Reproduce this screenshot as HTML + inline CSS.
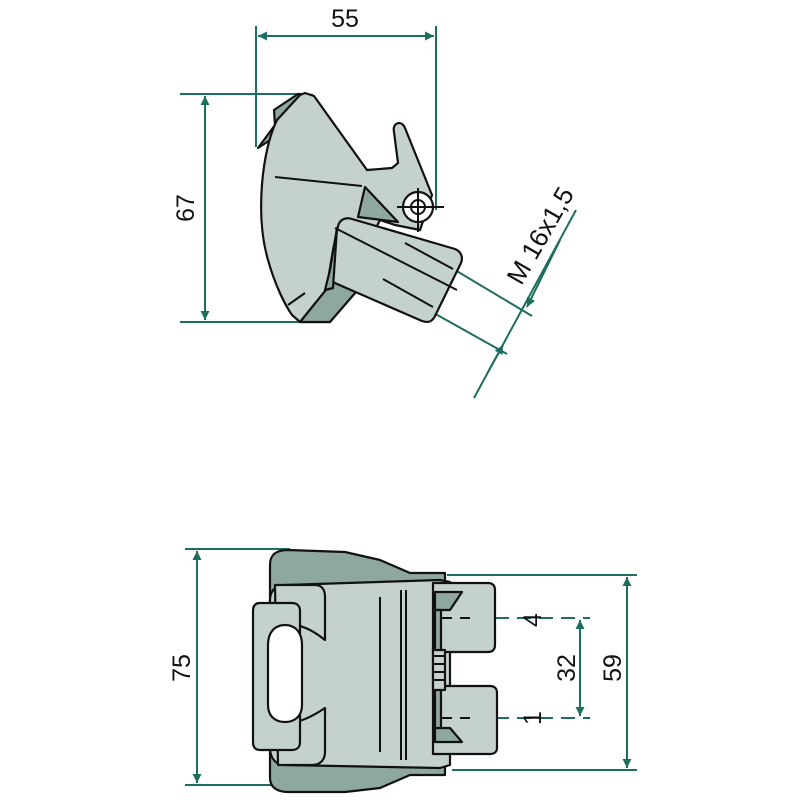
<!DOCTYPE html>
<html><head><style>html,body{margin:0;padding:0;background:#fff}svg{display:block}</style></head>
<body>
<svg width="800" height="800" viewBox="0 0 800 800" xmlns="http://www.w3.org/2000/svg">
<defs>
<marker id="a" viewBox="0 0 10 10" refX="10" refY="5" markerWidth="15" markerHeight="9" orient="auto-start-reverse" markerUnits="userSpaceOnUse"><path d="M0,0 L10,5 L0,10 z" fill="#1d6e5e"/></marker>
</defs>
<g font-family="Liberation Sans, sans-serif" font-size="25" fill="#111">
<g stroke="#1d6e5e" stroke-width="2" fill="none">
<line x1="256" y1="26" x2="256" y2="147"/>
<line x1="436" y1="26" x2="436" y2="210"/>
<line x1="258" y1="36" x2="434" y2="36" marker-start="url(#a)" marker-end="url(#a)"/>
<line x1="180" y1="94" x2="305" y2="94"/>
<line x1="180" y1="322" x2="330" y2="322"/>
<line x1="205" y1="96" x2="205" y2="320" marker-start="url(#a)" marker-end="url(#a)"/>
<line x1="455" y1="270" x2="532" y2="316"/>
<line x1="432" y1="312" x2="507" y2="354"/>
<line x1="576" y1="210" x2="474" y2="398"/>
<line x1="560" y1="240" x2="527" y2="307" marker-end="url(#a)"/>
<line x1="488" y1="372" x2="503" y2="345" marker-end="url(#a)"/>
</g>
<text x="345" y="27" text-anchor="middle">55</text>
<text transform="translate(194,208) rotate(-90)" text-anchor="middle">67</text>
<text transform="translate(548,240) rotate(-60)" text-anchor="middle" font-size="26">M 16x1,5</text>

<g stroke="#111" stroke-width="2.2" stroke-linejoin="round">
<path d="M258,148 L275,125 L274,110 L298,94 L312,95 L322,110 L278,135 Z" fill="#8fa89e"/>
<path d="M277,120 C262,150 255,215 268,260 C275,285 285,305 292,315 L300,322 L330,322 L340,300 L380,220 L395,225 L420,230 L432,195 L405,128 C402,120 392,122 394,132 L398,163 L392,168 L367,170 L314,96 L305,93 L300,95 Z" fill="#c5d1cd"/>
<path d="M365,187 L358,217 L398,222 Z" fill="#8fa89e"/>
<path d="M300,322 L330,322 L362,285 L338,275 Z" fill="#8fa89e"/>
<path d="M338,226 C340,219 346,217 352,219 L455,249 C462,252 463,258 461,263 L435,316 C432,322 428,323 422,321 L328,280 L333,250 Z" fill="#c5d1cd"/>
<path d="M337,228 L330,270 L325,290 L333,288 Z" fill="#8fa89e"/>
</g>
<g stroke="#111" stroke-width="2" fill="none">
<line x1="275" y1="177" x2="362" y2="186"/>
<line x1="335" y1="228" x2="457" y2="290"/>
<line x1="405" y1="243" x2="453" y2="269"/>
<line x1="383" y1="279" x2="433" y2="307"/>
<line x1="288" y1="305" x2="305" y2="293"/>
<circle cx="418" cy="207" r="15" fill="#fff" stroke-width="2.2"/>
<circle cx="418" cy="207" r="7"/>
<line x1="397" y1="207" x2="444" y2="207"/>
<line x1="418" y1="188" x2="418" y2="232"/>
</g>

<g stroke="#1d6e5e" stroke-width="2" fill="none">
<line x1="185" y1="549" x2="290" y2="549"/>
<line x1="185" y1="785" x2="290" y2="785"/>
<line x1="197" y1="551" x2="197" y2="783" marker-start="url(#a)" marker-end="url(#a)"/>
<line x1="447" y1="575" x2="637" y2="575"/>
<line x1="452" y1="770" x2="637" y2="770"/>
<line x1="627" y1="577" x2="627" y2="768" marker-start="url(#a)" marker-end="url(#a)"/>
<line x1="495" y1="618" x2="590" y2="618" stroke-dasharray="14,8"/>
<line x1="495" y1="718" x2="590" y2="718" stroke-dasharray="14,8"/>
<line x1="580" y1="620" x2="580" y2="716" marker-start="url(#a)" marker-end="url(#a)"/>
</g>
<text transform="translate(190,668) rotate(-90)" text-anchor="middle">75</text>
<text transform="translate(621,668) rotate(-90)" text-anchor="middle">59</text>
<text transform="translate(575,668) rotate(-90)" text-anchor="middle">32</text>
<text transform="translate(541,620) rotate(-90)" text-anchor="middle">4</text>
<text transform="translate(541,718) rotate(-90)" text-anchor="middle">1</text>

<g stroke="#111" stroke-width="2.2" stroke-linejoin="round">
<path d="M270,565 C270,553 278,550 288,550 L345,552 L380,560 L410,573 L445,573 L445,775 L410,775 L380,788 L345,792 L288,792 C278,792 270,788 270,778 Z" fill="#8fa89e"/>
<path d="M285,585 L440,580 L450,582 L450,765 L440,768 L285,765 C275,765 270,757 270,748 L270,600 C270,590 276,586 285,585 Z" fill="#c5d1cd"/>
<path d="M433,583 L488,583 C493,583 495,586 495,590 L495,645 C495,650 492,652 488,652 L440,652 L440,686 L490,686 C495,686 497,689 497,693 L497,748 C497,752 494,754 490,754 L433,754 Z" fill="#c5d1cd"/>
<path d="M435,592 L462,592 L450,610 L435,610 Z" fill="#8fa89e"/>
<path d="M435,742 L462,742 L450,728 L435,728 Z" fill="#8fa89e"/>
<path d="M435,610 L441,610 L441,728 L435,728 Z" fill="#8fa89e"/>
<path d="M275,585 L315,585 C322,585 325,590 325,597 L325,640 C310,628 300,625 292,625 L292,722 C300,722 310,718 325,708 L325,752 C325,760 320,765 312,765 L278,765 Z" fill="#c5d1cd"/>
<path d="M260,603 L292,603 C297,603 300,606 300,611 L300,742 C300,747 297,750 292,750 L260,750 C255,750 253,747 253,742 L253,611 C253,606 255,603 260,603 Z" fill="#c5d1cd"/>
<path d="M285,625 C295,625 302,632 302,645 L302,705 C302,716 295,722 285,722 C275,722 268,716 268,705 L268,645 C268,632 275,625 285,625 Z" fill="#fff"/>
<rect x="433" y="650" width="12" height="40" fill="#c5d1cd"/>
</g>
<g stroke="#111" stroke-width="2" fill="none">
<line x1="380" y1="597" x2="380" y2="752"/>
<line x1="401" y1="590" x2="401" y2="760"/>
<line x1="406" y1="590" x2="406" y2="760"/>
<line x1="433" y1="656" x2="445" y2="656"/>
<line x1="433" y1="664" x2="445" y2="664"/>
<line x1="433" y1="672" x2="445" y2="672"/>
<line x1="433" y1="680" x2="445" y2="680"/>
<line x1="440" y1="618" x2="470" y2="618" stroke-dasharray="12,8"/>
<line x1="440" y1="718" x2="470" y2="718" stroke-dasharray="12,8"/>
</g>
</g>
</svg>
</body></html>
